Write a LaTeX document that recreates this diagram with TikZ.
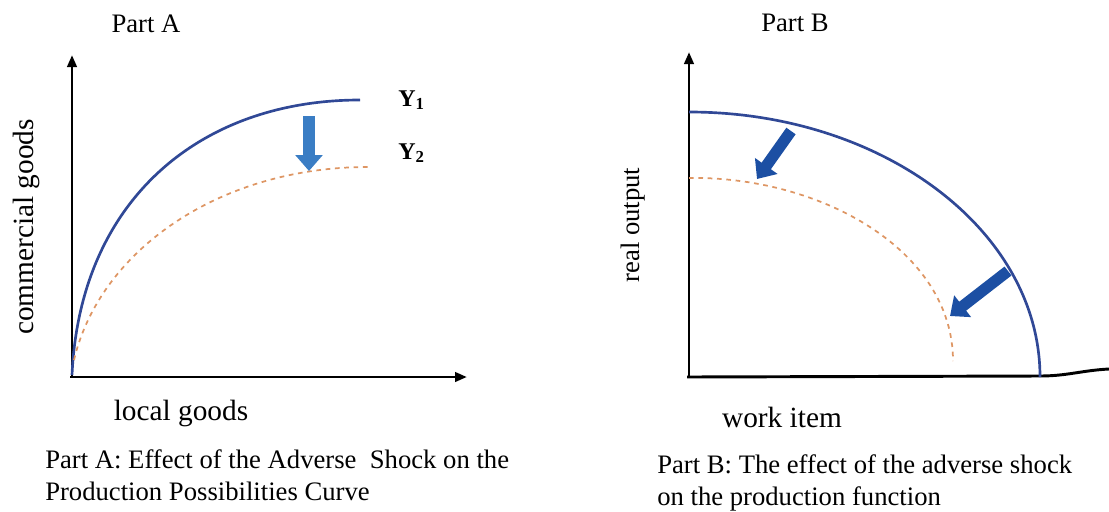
\documentclass[tikz,border=0pt]{standalone}
\usepackage{fontspec}
\setmainfont{Liberation Serif}
\usetikzlibrary{arrows.meta}
\definecolor{curveblue}{RGB}{48,72,150}
\definecolor{dashorange}{RGB}{222,150,100}
\definecolor{arrowA}{RGB}{58,125,196}
\definecolor{arrowB}{RGB}{28,79,163}
\tikzset{
  axis/.style={line width=2.2pt,-{Triangle[length=9pt,width=7pt]}},
  plainaxis/.style={line width=2.2pt},
  ppc/.style={curveblue,line width=2pt},
  shifted/.style={dashorange,line width=1.3pt,dash pattern=on 3.5pt off 3.5pt},
  shockA/.style={arrowA,line width=9.5pt,-{Triangle[length=12pt,width=20pt]}},
  shockB/.style={arrowB,line width=8.5pt,-{Triangle[length=12pt,width=20pt]}},
  lbl/.style={inner sep=0pt,font=\fontsize{20}{24}\selectfont},
  axlbl/.style={inner sep=0pt,font=\fontsize{22}{26}\selectfont},
  captxt/.style={inner sep=0pt,anchor=base west,font=\fontsize{20}{24}\selectfont},
  ylbl/.style={inner sep=0pt,anchor=base west,font=\fontsize{18}{20}\selectfont\bfseries},
}
\begin{document}
\begin{tikzpicture}[x=0.75pt,y=-0.75pt]
\useasboundingbox (0,0) rectangle (1109,511);
% ---------- Part A ----------
\coordinate (oA) at (72,377);
\coordinate (yA) at (72,55);
\coordinate (xA) at (467,377);
\draw[axis] (oA) -- (yA);
\draw[axis] (70,377) -- (xA);
\coordinate (y1s) at (72,375);
\coordinate (y1e) at (360,100);
\draw[ppc] (y1s) .. controls (80,200) and (200,100) .. (y1e);
\coordinate (y2s) at (74,360);
\coordinate (y2e) at (368,167);
\draw[shifted] (y2s) .. controls (100,250) and (220,167) .. (y2e);
\coordinate (aAt) at (309,116);
\coordinate (aAh) at (309,171);
\draw[shockA] (aAt) -- (aAh);
\node[ylbl] (Y1) at (398,106) {Y\textsubscript{1}};
\node[ylbl] (Y2) at (398,159) {Y\textsubscript{2}};
\node[lbl] (partA) at (146,24) {Part A};
\node[axlbl,rotate=90] (cg) at (26,227) {commercial goods};
\node[axlbl,anchor=base] (lg) at (181,420) {local goods};
\node[captxt] (capA1) at (45,468) {Part A: Effect of the Adverse\ \ Shock on the};
\node[captxt] (capA2) at (45,500) {Production Possibilities Curve};
% ---------- Part B ----------
\coordinate (oB) at (689,377);
\coordinate (yB) at (689,52);
\coordinate (xB1) at (1040,376);
\coordinate (xB2) at (1109,369);
\draw[axis] (oB) -- (yB);
\draw[plainaxis] (687,377) -- (xB1) to[out=0,in=183] (xB2);
\coordinate (pfs) at (689,112);
\draw[ppc] (pfs) arc[start angle=-90,end angle=0,x radius=351,y radius=265];
\coordinate (pf2s) at (689,178);
\coordinate (pf2e) at (953,361);
\draw[shifted] (pf2s) .. controls (820,176) and (953,250) .. (pf2e);
\coordinate (b1t) at (791,131);
\coordinate (b1h) at (757,179);
\draw[shockB] (b1t) -- (b1h);
\coordinate (b2t) at (1008,271);
\coordinate (b2h) at (950,316);
\draw[shockB] (b2t) -- (b2h);
\node[lbl] (partB) at (795,23) {Part B};
\node[lbl,rotate=90] (ro) at (633,225) {real output};
\node[axlbl,anchor=base] (wi) at (782,427) {work item};
\node[captxt] (capB1) at (657,473) {Part B: The effect of the adverse shock};
\node[captxt] (capB2) at (657,505) {on the production function};
\end{tikzpicture}
\end{document}
